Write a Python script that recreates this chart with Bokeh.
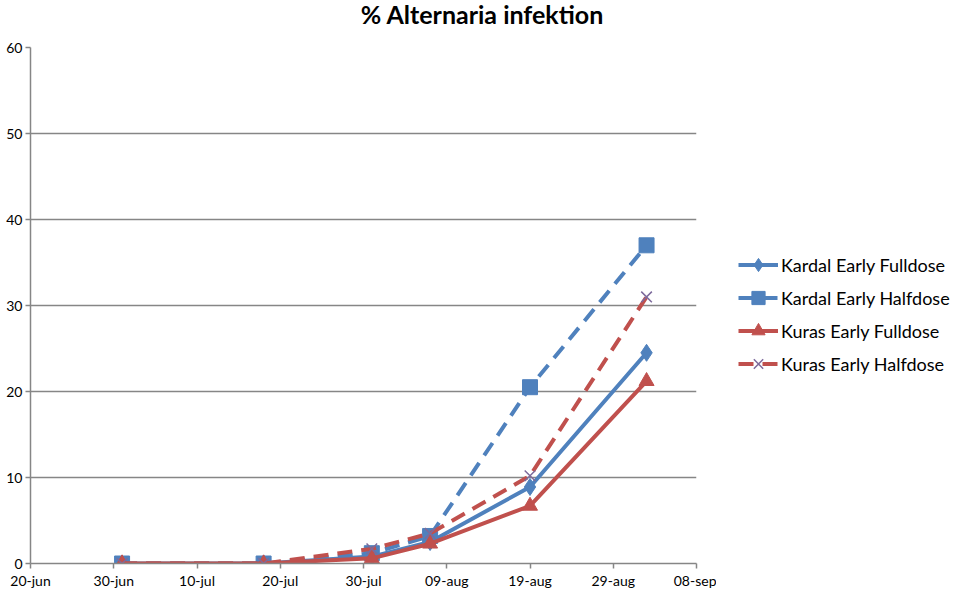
from datetime import datetime, timezone
from bokeh.plotting import figure
from bokeh.layouts import row, column
from bokeh.models import (Legend, LegendItem, FixedTicker, CustomJSTickFormatter, Range1d, Div)
from bokeh.embed import file_html
from bokeh.resources import INLINE

# ---- data ----
dates = ["2011-07-01", "2011-07-18", "2011-07-31", "2011-08-07", "2011-08-19", "2011-09-02"]
kardal_full = [0.0, 0.0, 0.8, 2.5, 8.9, 24.5]
kardal_half = [0.0, 0.0, 1.2, 3.2, 20.5, 37.0]
kuras_full = [0.0, 0.0, 0.6, 2.3, 6.7, 21.2]
kuras_half = [0.0, 0.0, 1.7, 3.5, 10.2, 31.0]
series_names = ["Kardal Early Fulldose", "Kardal Early Halfdose", "Kuras Early Fulldose", "Kuras Early Halfdose"]
x_tick_dates = ["2011-06-20", "2011-06-30", "2011-07-10", "2011-07-20", "2011-07-30",
                "2011-08-09", "2011-08-19", "2011-08-29", "2011-09-08"]
y_ticks = [0, 10, 20, 30, 40, 50, 60]
title_text = "% Alternaria infektion"


def to_dt(s):
    return datetime.strptime(s, "%Y-%m-%d").replace(tzinfo=timezone.utc)


def to_ms(s):
    return to_dt(s).timestamp() * 1000.0


xs = [to_dt(s) for s in dates]
tick_ms = [to_ms(s) for s in x_tick_dates]

BLUE = "#4F81BD"
RED = "#C0504D"
PURPLE = "#7D6A9C"
GRID = "#868686"
FONT = "Lato"

TITLE_H = 34

# ---------------- title ----------------
title = Div(text=title_text, width=960, height=TITLE_H, margin=0,
            styles={"font-family": FONT, "font-size": "25px", "font-weight": "bold",
                    "text-align": "center", "line-height": "28px", "color": "black",
                    "padding-left": "4px"})

# ---------------- main chart ----------------
p = figure(width=716, height=592 - TITLE_H, output_backend="svg", toolbar_location=None,
           x_axis_type="datetime",
           x_range=Range1d(tick_ms[0], tick_ms[-1]),
           y_range=Range1d(y_ticks[0], y_ticks[-1]),
           min_border_left=30, min_border_right=20, min_border_top=47 - TITLE_H,
           min_border_bottom=29)
p.outline_line_color = None
p.background_fill_color = "white"
p.border_fill_color = "white"

p.xaxis.ticker = FixedTicker(ticks=tick_ms)
p.xaxis.formatter = CustomJSTickFormatter(code="""
const m = ["jan","feb","mar","apr","maj","jun","jul","aug","sep","okt","nov","dec"];
const d = new Date(tick);
const dd = String(d.getUTCDate()).padStart(2, "0");
return dd + "-" + m[d.getUTCMonth()];
""")
p.yaxis.ticker = FixedTicker(ticks=y_ticks)
for ax in (p.xaxis[0], p.yaxis[0]):
    ax.axis_line_color = GRID
    ax.axis_line_width = 1.5
    ax.major_tick_line_color = GRID
    ax.major_tick_line_width = 1.5
    ax.major_tick_out = 5
    ax.major_tick_in = 0
    ax.minor_tick_line_color = None
    ax.major_label_text_font = FONT
    ax.major_label_text_font_size = "14px"
    ax.major_label_text_color = "black"
    ax.major_label_standoff = 3
p.xgrid.grid_line_color = None
p.ygrid.grid_line_color = GRID
p.ygrid.grid_line_width = 1.5

LW = 4
DASH = "15 9"
styles = [
    dict(color=BLUE, dash="solid", marker="diamond", size=17),
    dict(color=BLUE, dash=DASH, marker="square", size=15),
    dict(color=RED, dash="solid", marker="triangle", size=15),
    dict(color=RED, dash=DASH, marker="x", size=15),
]
values = [kardal_full, kardal_half, kuras_full, kuras_half]


def draw(fig, xv, yv, st):
    rl = fig.line(xv, yv, line_color=st["color"], line_width=LW, line_dash=st["dash"])
    if st["marker"] == "x":
        rm = fig.scatter(xv, yv, marker="x", size=st["size"], line_color=PURPLE, line_width=1.5)
    else:
        rm = fig.scatter(xv, yv, marker=st["marker"], size=st["size"],
                         fill_color=st["color"], line_color=st["color"])
    return rl, rm


for yv, st in zip(values, styles):
    draw(p, xs, yv, st)

# ---------------- legend panel ----------------
# same series drawn again, outside this panel's visible range, only to feed the legend
lp = figure(width=244, height=592 - TITLE_H, output_backend="svg", toolbar_location=None,
            x_range=Range1d(0, 1), y_range=Range1d(-100, -99),
            x_axis_location=None, y_axis_location=None,
            min_border_left=0, min_border_right=0, min_border_top=0, min_border_bottom=0)
lp.outline_line_color = None
lp.xgrid.grid_line_color = None
lp.ygrid.grid_line_color = None
lp.border_fill_color = "white"

items = []
for name, yv, st in zip(series_names, values, styles):
    rl, rm = draw(lp, xs, yv, st)
    items.append(LegendItem(label=name, renderers=[rl, rm]))

legend = Legend(items=items, location=(22, 183))
legend.border_line_color = None
legend.background_fill_alpha = 0
legend.label_text_font = FONT
legend.label_text_font_size = "18px"
legend.label_text_color = "black"
legend.glyph_width = 40
legend.glyph_height = 33
legend.spacing = 0
legend.label_standoff = 3
legend.padding = 0
legend.margin = 0
lp.add_layout(legend, "center")

layout = column(title, row(p, lp))
open("out.html", "w").write(file_html(layout, INLINE))
